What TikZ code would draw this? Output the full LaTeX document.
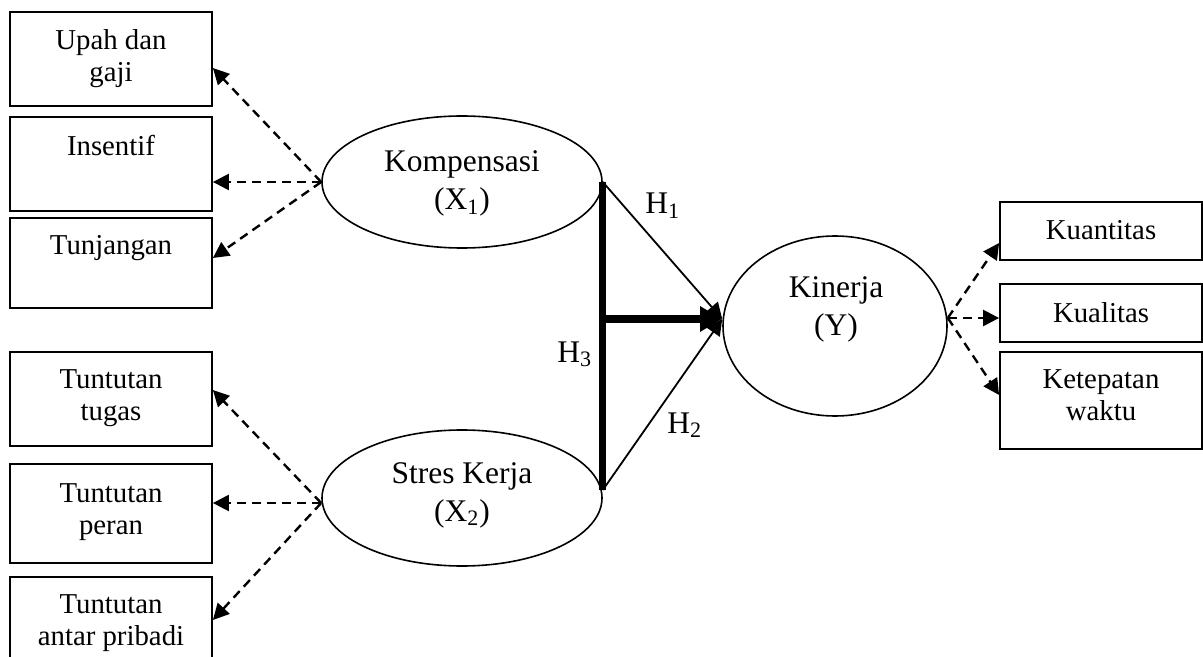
\documentclass[tikz,border=0pt]{standalone}
\usepackage{fontspec}
\setmainfont{Liberation Serif}
\usetikzlibrary{shapes.geometric,arrows.meta}
\newcommand\boxfnt{\fontsize{14.4pt}{16pt}\selectfont}
\newcommand\ellfnt{\fontsize{15.75pt}{19pt}\selectfont}
\newcommand\lines[1]{\parbox[t]{150pt}{\centering #1}}
\tikzset{
  indbox/.style={draw, line width=0.9pt, rectangle, minimum width=101pt, inner sep=0pt},
  latent/.style={draw, line width=0.8pt, ellipse, inner sep=0pt},
  boxtext/.style={anchor=base, inner sep=0pt, font=\boxfnt},
  elltext/.style={anchor=base, inner sep=0pt, font=\ellfnt},
  hlabel/.style={anchor=base west, inner sep=0pt, font=\ellfnt},
  loading/.style={dash pattern=on 4.5pt off 3pt, line width=1.2pt,
    -{Triangle[length=8pt,width=8pt]}},
  path/.style={line width=0.9pt, -{Triangle[length=8pt,width=8pt]}},
  joint/.style={line width=3.6pt}
}
\begin{document}
\begin{tikzpicture}[x=0.5pt,y=-0.5pt]
\useasboundingbox (0,0) rectangle (1203,657);
\clip (0,0) rectangle (1203,657);

% indicator boxes of Kompensasi
\node[indbox, minimum height=47pt] (b1) at (111,59) {};
\node[indbox, minimum height=47pt] (b2) at (111,164) {};
\node[indbox, minimum height=45pt] (b3) at (111,263) {};
\node[boxtext] (t1) at (111,50) {\lines{Upah dan\\gaji}};
\node[boxtext] (t2) at (111,156) {\lines{Insentif}};
\node[boxtext] (t3) at (111,255) {\lines{Tunjangan}};

% indicator boxes of Stres Kerja
\node[indbox, minimum height=47pt] (b4) at (111,399) {};
\node[indbox, minimum height=49.5pt] (b5) at (111,513.5) {};
\node[indbox, minimum height=50pt] (b6) at (111,627) {};
\node[boxtext] (t4) at (111,388) {\lines{Tuntutan\\tugas}};
\node[boxtext] (t5) at (111,502) {\lines{Tuntutan\\peran}};
\node[boxtext] (t6) at (111,613) {\lines{Tuntutan\\antar pribadi}};

% indicator boxes of Kinerja
\node[indbox, minimum height=29pt] (r1) at (1101,231) {};
\node[indbox, minimum height=29pt] (r2) at (1101,313) {};
\node[indbox, minimum height=48.5pt] (r3) at (1101,400.5) {};
\node[boxtext] (u1) at (1101,240) {\lines{Kuantitas}};
\node[boxtext] (u2) at (1101,322) {\lines{Kualitas}};
\node[boxtext] (u3) at (1101,388) {\lines{Ketepatan\\waktu}};

% latent variables
\node[latent, minimum width=140pt, minimum height=66pt] (e1) at (462,182) {};
\node[latent, minimum width=140pt, minimum height=68pt] (e2) at (462,498) {};
\node[latent, minimum width=112pt, minimum height=90pt] (e3) at (835,326) {};
\node[elltext] (k1) at (462,172) {\lines{Kompensasi\\(X\textsubscript{1})}};
\node[elltext] (k2) at (462,483) {\lines{Stres Kerja\\(X\textsubscript{2})}};
\node[elltext] (k3) at (836,298) {\lines{Kinerja\\(Y)}};

% reflective indicators
\draw[loading] (e1.west) -- ([yshift=-4.5pt]b1.east);
\draw[loading] (e1.west) -- ([yshift=-9pt]b2.east);
\draw[loading] (e1.west) -- ([yshift=2.5pt]b3.east);
\coordinate (xin) at ([yshift=-2.5pt]e2.west);
\draw[loading] (xin) -- ([yshift=4.5pt]b4.east);
\draw[loading] (xin) -- (xin -| b5.east);
\draw[loading] (xin) -- ([yshift=3.5pt]b6.east);
\coordinate (yout) at ([yshift=4pt]e3.east);
\draw[loading] (yout) -- ([yshift=-6pt]r1.east -| r1.west);
\draw[loading] (yout) -- (yout -| r2.west);
\draw[loading] (yout) -- ([yshift=2.75pt]r3.east -| r3.west);

% hypotheses
\coordinate (bot) at ([yshift=4pt]e2.east);
\coordinate (hub) at (602,319);
\coordinate (tip) at (hub -| e3.west);
\draw[joint] (e1.east) -- (bot);
\draw[path] (e1.east) -- (tip);
\draw[path] (bot) -- (tip);
\draw[joint, -{Triangle[length=11pt,width=12pt]}] (hub) -- (tip);
\node[hlabel] (h1) at (645,214) {H\textsubscript{1}};
\node[hlabel] (h2) at (667,433) {H\textsubscript{2}};
\node[hlabel] (h3) at (557,362) {H\textsubscript{3}};
\end{tikzpicture}
\end{document}
